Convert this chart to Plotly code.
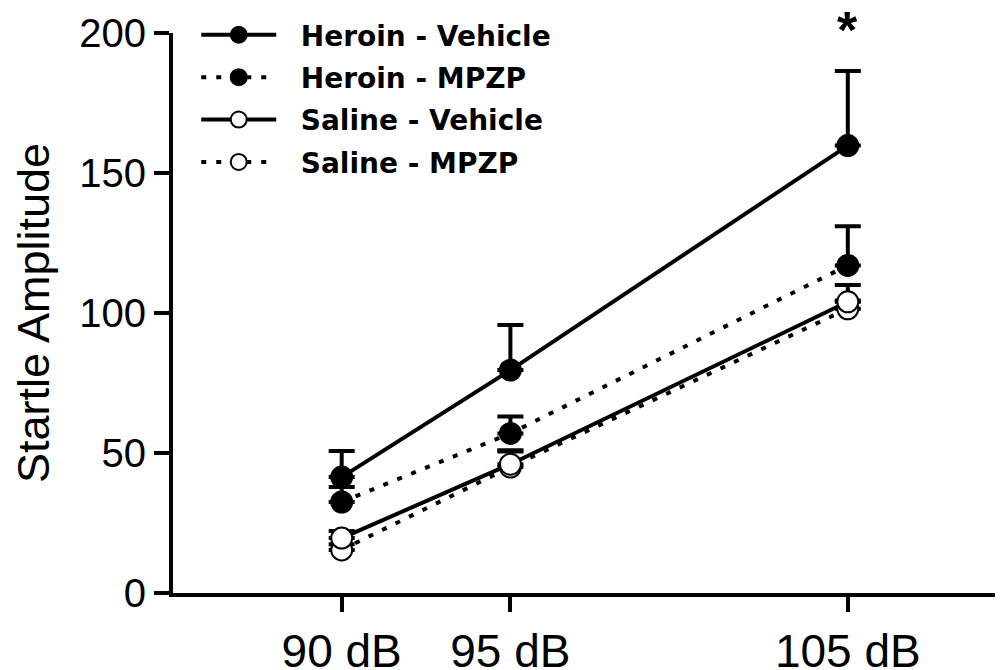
import plotly.graph_objects as go

x_db = [90, 95, 105]
tick_labels = ["90 dB", "95 dB", "105 dB"]

heroin_vehicle = [41.4, 79.6, 159.8]
heroin_vehicle_sem = [9.3, 16.1, 26.6]
heroin_mpzp = [32.5, 57.0, 117.0]
heroin_mpzp_sem = [5.4, 6.0, 14.0]
saline_vehicle = [19.6, 46.0, 104.0]
saline_vehicle_sem = [2.5, 5.0, 6.0]
saline_mpzp = [15.4, 45.0, 101.5]
saline_mpzp_sem = [2.0, 5.5, 3.0]

star_x = 105
star_y = 201
y_max = 200

series = [
    # name, y, sem, fill, dash, legend rank
    ("Saline - MPZP", saline_mpzp, saline_mpzp_sem, "white", "5px,10px", 4),
    ("Saline - Vehicle", saline_vehicle, saline_vehicle_sem, "white", "solid", 3),
    ("Heroin - MPZP", heroin_mpzp, heroin_mpzp_sem, "black", "5px,10px", 2),
    ("Heroin - Vehicle", heroin_vehicle, heroin_vehicle_sem, "black", "solid", 1),
]

fig = go.Figure()
for name, y, sem, fill, dash, rank in series:
    fig.add_trace(go.Scatter(
        x=x_db, y=y, name="\u00a0\u00a0" + name, mode="lines+markers",
        line=dict(color="black", width=4, dash=dash),
        marker=dict(size=21, color=fill, line=dict(color="black", width=2)),
        error_y=dict(type="data", symmetric=False, array=sem,
                     arrayminus=[0] * len(sem), color="black",
                     thickness=4, width=13),
        legendrank=rank, legendgroup=name, cliponaxis=False,
    ))

fig.add_annotation(x=star_x, y=star_y / y_max, xref="x", yref="paper",
                   text="<b>*</b>", showarrow=False, yanchor="middle",
                   font=dict(size=52, color="black",
                             family="Liberation Sans, Arial"))

# page body has an 8px margin, so the figure is 8px smaller than the window
fig.update_layout(
    width=995, height=662,
    margin=dict(l=165, r=0, t=25, b=77, autoexpand=False),
    paper_bgcolor="white", plot_bgcolor="white",
    font=dict(family="Liberation Sans, Arial", color="black"),
    showlegend=True,
    legend=dict(
        x=0.028, y=1.041, xanchor="left", yanchor="top",
        font=dict(family="DejaVu Sans", size=28, color="black", weight="bold"),
        itemwidth=75, tracegroupgap=3, bgcolor="rgba(0,0,0,0)",
        itemclick=False,
    ),
    xaxis=dict(
        range=[85, 109.6], tickmode="array", tickvals=x_db, ticktext=tick_labels,
        showgrid=False, zeroline=False, showline=True, linecolor="black",
        linewidth=4, ticks="outside", ticklen=15, tickwidth=4, tickcolor="black",
        tickfont=dict(size=46, family="Liberation Sans, Arial"),
    ),
    yaxis=dict(
        range=[0, y_max], tickvals=[0, 50, 100, 150, 200],
        showgrid=False, zeroline=False, showline=True, linecolor="black",
        linewidth=4, ticks="outside", ticklen=15, tickwidth=4, tickcolor="black",
        tickfont=dict(size=40, family="Liberation Sans, Arial"),
        title=dict(text="Startle Amplitude", standoff=17,
                   font=dict(size=45, family="Liberation Sans, Arial")),
    ),
)

fig.write_html("out.html")
